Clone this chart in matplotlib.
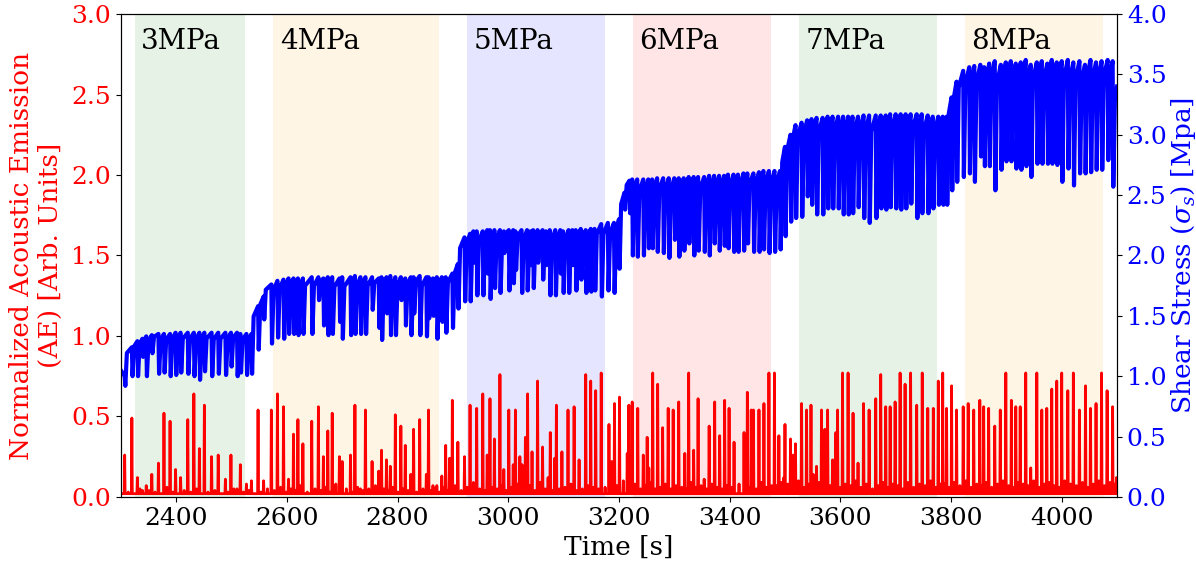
import numpy as np
import matplotlib
matplotlib.use("Agg")
import matplotlib.pyplot as plt

plt.rcParams['font.family'] = 'DejaVu Serif'
plt.rcParams['mathtext.fontset'] = 'dejavuserif'
plt.rcParams['font.size'] = 18

# normal stress stages (shaded windows)
stage_labels = ['3MPa', '4MPa', '5MPa', '6MPa', '7MPa', '8MPa']
stage_start = [2325, 2575, 2925, 3225, 3525, 3825]
stage_end = [2525, 2875, 3175, 3475, 3775, 4075]
stage_colors = ['green', 'orange', 'blue', 'red', 'green', 'orange']

# shear stress: slip events (time [s], stress before slip, stress after slip) [MPa]
stress_first = (2300, 1.05)
stress_last = (4100, 3.40)
stress_time = [
    2307, 2320, 2330, 2339, 2346, 2356, 2368, 2378, 2389, 2399, 2408, 2421, 2432, 2442, 2451, 2464,
    2476, 2489, 2499, 2510, 2516, 2527, 2536,
    2548, 2558, 2572, 2583, 2594, 2603, 2612, 2620, 2629, 2645, 2657, 2666, 2674, 2682, 2695, 2700,
    2715, 2723, 2733, 2742, 2754, 2766, 2771, 2780, 2787, 2796, 2806, 2814, 2824, 2829, 2840, 2852,
    2856, 2864, 2871, 2880, 2887,
    2899, 2909, 2921, 2931, 2937, 2943, 2954, 2962, 2967, 2975, 2985, 2992, 3001, 3009, 3013, 3024,
    3034, 3040, 3045, 3053, 3062, 3068, 3075, 3085, 3094, 3099, 3109, 3116, 3122, 3131, 3140, 3149,
    3156,
    3168, 3180, 3191, 3200, 3210, 3219, 3224, 3233, 3244, 3253, 3260, 3269, 3280, 3290, 3300, 3308,
    3317, 3326, 3335, 3343, 3354, 3363, 3372, 3381, 3390, 3397, 3407, 3415, 3425, 3432, 3443, 3453,
    3461, 3471, 3481, 3491,
    3500, 3510, 3519, 3530, 3540, 3548, 3557, 3568, 3577, 3586, 3596, 3605, 3614, 3622, 3632, 3642,
    3652, 3664, 3673, 3682, 3690, 3700, 3709, 3718, 3727, 3738, 3747, 3758, 3767, 3777, 3785, 3792,
    3801, 3810, 3822, 3833, 3842, 3853, 3860, 3869, 3879, 3890, 3899, 3908, 3917, 3926, 3935, 3944,
    3955, 3964, 3974, 3982, 3991, 4000, 4011, 4021, 4032, 4042, 4052, 4062, 4072, 4083, 4092,
]
stress_peak = [
    1.00, 1.24, 1.29, 1.31, 1.33, 1.34, 1.35, 1.35, 1.35, 1.36, 1.36, 1.36, 1.36, 1.36, 1.36, 1.36,
    1.36, 1.36, 1.36, 1.36, 1.35, 1.35, 1.35,
    1.58, 1.66, 1.76, 1.79, 1.80, 1.81, 1.81, 1.81, 1.81, 1.82, 1.82, 1.81, 1.82, 1.82, 1.81, 1.82,
    1.82, 1.83, 1.82, 1.82, 1.82, 1.81, 1.82, 1.82, 1.83, 1.82, 1.82, 1.81, 1.82, 1.82, 1.83, 1.82,
    1.82, 1.81, 1.82, 1.82, 1.82,
    1.85, 1.93, 2.15, 2.18, 2.20, 2.20, 2.20, 2.21, 2.21, 2.21, 2.21, 2.20, 2.21, 2.21, 2.20, 2.21,
    2.21, 2.20, 2.21, 2.21, 2.21, 2.20, 2.21, 2.21, 2.21, 2.20, 2.21, 2.21, 2.21, 2.22, 2.21, 2.22,
    2.22,
    2.26, 2.27, 2.27, 2.30, 2.52, 2.62, 2.63, 2.63, 2.63, 2.63, 2.63, 2.64, 2.64, 2.64, 2.64, 2.64,
    2.64, 2.65, 2.65, 2.65, 2.65, 2.66, 2.66, 2.66, 2.66, 2.67, 2.67, 2.67, 2.68, 2.68, 2.68, 2.69,
    2.70, 2.70, 2.70, 2.70,
    2.90, 3.00, 3.08, 3.10, 3.12, 3.13, 3.14, 3.14, 3.15, 3.15, 3.15, 3.15, 3.15, 3.15, 3.15, 3.16,
    3.16, 3.16, 3.16, 3.16, 3.17, 3.17, 3.17, 3.17, 3.17, 3.17, 3.17, 3.16, 3.15, 3.15, 3.15, 3.15,
    3.31, 3.44, 3.53, 3.56, 3.57, 3.58, 3.56, 3.59, 3.61, 3.58, 3.60, 3.61, 3.59, 3.60, 3.62, 3.58,
    3.60, 3.61, 3.59, 3.62, 3.60, 3.61, 3.62, 3.60, 3.61, 3.58, 3.62, 3.60, 3.61, 3.62, 3.61,
]
stress_dip = [
    0.92, 1.00, 1.00, 1.16, 1.00, 1.19, 1.02, 1.03, 1.00, 1.01, 1.03, 1.02, 1.00, 0.97, 1.04, 1.00,
    1.02, 1.01, 1.08, 1.00, 1.03, 1.01, 1.02,
    1.22, 1.47, 1.27, 1.32, 1.31, 1.35, 1.35, 1.34, 1.35, 1.35, 1.63, 1.42, 1.34, 1.35, 1.45, 1.31,
    1.34, 1.35, 1.35, 1.35, 1.55, 1.40, 1.30, 1.52, 1.34, 1.34, 1.63, 1.42, 1.34, 1.52, 1.34, 1.33,
    1.48, 1.50, 1.31, 1.45, 1.36,
    1.40, 1.56, 1.62, 1.62, 1.94, 1.67, 1.67, 1.85, 1.64, 1.73, 1.69, 2.02, 1.71, 1.77, 1.88, 1.69,
    1.71, 1.92, 1.73, 1.94, 1.80, 1.92, 1.67, 1.67, 1.85, 1.69, 1.69, 1.92, 1.71, 1.80, 1.69, 1.70,
    1.71,
    1.66, 1.71, 1.69, 1.89, 2.38, 2.35, 2.00, 1.99, 2.00, 2.06, 2.06, 2.03, 2.02, 1.98, 2.13, 1.99,
    2.04, 2.10, 2.00, 2.04, 2.03, 2.00, 2.10, 2.04, 2.08, 2.06, 2.03, 2.03, 2.04, 2.10, 2.03, 2.03,
    2.05, 2.02, 2.03, 2.05,
    2.16, 2.28, 2.31, 2.32, 2.49, 2.42, 2.34, 2.34, 2.39, 2.39, 2.39, 2.34, 2.34, 2.35, 2.40, 2.31,
    2.27, 2.31, 2.39, 2.38, 2.40, 2.39, 2.38, 2.39, 2.43, 2.31, 2.35, 2.35, 2.39, 2.42, 2.42, 2.42,
    2.54, 2.61, 2.65, 2.68, 2.61, 2.82, 2.74, 2.74, 2.54, 2.71, 2.78, 2.78, 2.72, 2.71, 2.74, 2.65,
    2.76, 2.76, 2.76, 2.76, 2.75, 2.61, 2.72, 2.58, 2.68, 2.68, 2.69, 2.71, 2.71, 2.79, 2.57,
]

# acoustic emission bursts (time [s], normalized amplitude) and the small burst that follows each
ae_floor = 0.02
ae_time = [
    2307, 2320, 2330, 2339, 2346, 2356, 2368, 2378, 2389, 2399, 2408, 2421, 2432, 2442, 2451, 2464,
    2476, 2489, 2499, 2510, 2516, 2527, 2536,
    2548, 2558, 2572, 2583, 2594, 2603, 2612, 2620, 2629, 2645, 2657, 2666, 2674, 2682, 2695, 2700,
    2715, 2723, 2733, 2742, 2754, 2766, 2771, 2780, 2787, 2796, 2806, 2814, 2824, 2829, 2840, 2852,
    2856, 2864, 2871, 2880, 2887,
    2894, 2899, 2909, 2921, 2931, 2943, 2954, 2962, 2967, 2975, 2985, 2992, 3001, 3009, 3013, 3021,
    3025, 3031, 3035, 3043, 3053, 3062, 3072, 3076, 3084, 3087, 3097, 3108, 3119, 3128, 3140, 3149,
    3158,
    3168, 3182, 3187, 3192, 3201, 3215, 3218, 3224, 3234, 3244, 3251, 3254, 3261, 3270, 3279, 3289,
    3298, 3308, 3319, 3326, 3335, 3343, 3354, 3363, 3373, 3382, 3391, 3399, 3408, 3426, 3432, 3439,
    3443, 3453, 3462, 3471,
    3481, 3489, 3498, 3500, 3510, 3515, 3519, 3530, 3539, 3547, 3551, 3557, 3566, 3572, 3577, 3586,
    3592, 3595, 3604, 3614, 3623, 3632, 3642, 3652, 3664, 3673, 3682, 3690, 3699, 3708, 3717, 3727,
    3738, 3748, 3758, 3768, 3777,
    3785, 3792, 3801, 3810, 3822, 3831, 3841, 3852, 3859, 3868, 3879, 3889, 3899, 3909, 3917, 3925,
    3935, 3944, 3955, 3964, 3973, 3982, 3991, 4000, 4011, 4021, 4032, 4043, 4052, 4062, 4072, 4082,
    4092, 4099,
]
ae_value = [
    0.26, 0.49, 0.12, 0.04, 0.07, 0.14, 0.21, 0.52, 0.47, 0.17, 0.12, 0.48, 0.64, 0.30, 0.57, 0.25,
    0.26, 0.11, 0.26, 0.05, 0.20, 0.08, 0.10,
    0.54, 0.10, 0.54, 0.64, 0.56, 0.11, 0.39, 0.48, 0.33, 0.47, 0.56, 0.25, 0.41, 0.52, 0.25, 0.22,
    0.26, 0.57, 0.05, 0.54, 0.22, 0.16, 0.29, 0.23, 0.19, 0.51, 0.44, 0.32, 0.14, 0.42, 0.48, 0.14,
    0.54, 0.07, 0.07, 0.13, 0.32,
    0.24, 0.60, 0.34, 0.25, 0.57, 0.55, 0.64, 0.26, 0.61, 0.36, 0.76, 0.17, 0.54, 0.20, 0.54, 0.25,
    0.20, 0.37, 0.64, 0.28, 0.72, 0.31, 0.12, 0.40, 0.24, 0.57, 0.28, 0.54, 0.56, 0.23, 0.76, 0.72,
    0.66,
    0.77, 0.45, 0.22, 0.58, 0.62, 0.27, 0.57, 0.59, 0.55, 0.26, 0.37, 0.18, 0.77, 0.70, 0.43, 0.55,
    0.54, 0.59, 0.27, 0.77, 0.29, 0.61, 0.11, 0.44, 0.59, 0.38, 0.60, 0.55, 0.34, 0.40, 0.65, 0.54,
    0.54, 0.54, 0.58, 0.77,
    0.77, 0.38, 0.12, 0.45, 0.36, 0.26, 0.33, 0.58, 0.54, 0.57, 0.14, 0.19, 0.54, 0.42, 0.54, 0.23,
    0.40, 0.54, 0.77, 0.77, 0.52, 0.21, 0.58, 0.54, 0.61, 0.76, 0.56, 0.56, 0.59, 0.77, 0.70, 0.77,
    0.57, 0.77, 0.55, 0.55, 0.72,
    0.77, 0.55, 0.69, 0.54, 0.56, 0.58, 0.54, 0.60, 0.56, 0.55, 0.44, 0.54, 0.77, 0.60, 0.56, 0.56,
    0.77, 0.18, 0.77, 0.54, 0.55, 0.67, 0.72, 0.77, 0.66, 0.77, 0.54, 0.69, 0.55, 0.58, 0.77, 0.66,
    0.56, 0.12,
]
ae_minor = [
    0.03, 0.02, 0.05, 0.02, 0.04, 0.03, 0.02, 0.06, 0.03, 0.02, 0.04, 0.03, 0.05, 0.02, 0.03, 0.04,
    0.02, 0.03, 0.05, 0.02, 0.03, 0.04, 0.02,
    0.03, 0.05, 0.04, 0.06, 0.03, 0.05, 0.04, 0.07, 0.03, 0.05, 0.04, 0.06, 0.03, 0.08, 0.04, 0.05,
    0.03, 0.06, 0.04, 0.05, 0.07, 0.03, 0.05, 0.04, 0.06, 0.03, 0.05, 0.04, 0.07, 0.03, 0.05, 0.06,
    0.04, 0.05, 0.03, 0.06, 0.04,
    0.05, 0.07, 0.04, 0.06, 0.09, 0.05, 0.04, 0.08, 0.06, 0.05, 0.07, 0.04, 0.06, 0.05, 0.08, 0.04,
    0.06, 0.05, 0.07, 0.04, 0.09, 0.05, 0.06, 0.04, 0.07, 0.05, 0.06, 0.08, 0.04, 0.05, 0.07, 0.06,
    0.05,
    0.06, 0.08, 0.05, 0.07, 0.10, 0.05, 0.06, 0.08, 0.05, 0.07, 0.06, 0.09, 0.05, 0.06, 0.08, 0.05,
    0.07, 0.06, 0.05, 0.09, 0.06, 0.07, 0.05, 0.08, 0.06, 0.05, 0.07, 0.06, 0.08, 0.05, 0.06, 0.07,
    0.05, 0.09, 0.06, 0.07,
    0.07, 0.09, 0.06, 0.08, 0.05, 0.07, 0.10, 0.06, 0.08, 0.05, 0.07, 0.09, 0.06, 0.08, 0.07, 0.05,
    0.09, 0.06, 0.08, 0.07, 0.10, 0.06, 0.08, 0.05, 0.07, 0.09, 0.06, 0.08, 0.07, 0.05, 0.09, 0.06,
    0.08, 0.07, 0.10, 0.06, 0.08,
    0.08, 0.06, 0.09, 0.07, 0.10, 0.06, 0.08, 0.07, 0.09, 0.06, 0.08, 0.10, 0.07, 0.06, 0.09, 0.08,
    0.07, 0.10, 0.06, 0.08, 0.09, 0.07, 0.06, 0.10, 0.08, 0.07, 0.09, 0.06, 0.08, 0.10, 0.07, 0.09,
    0.08, 0.06,
]
assert len(stress_time) == len(stress_peak) == len(stress_dip)
assert len(ae_time) == len(ae_value) == len(ae_minor)

# stick-slip trace: sharp drop, quick reload, then slow creep up to the next peak
sx, sy = [stress_first[0]], [stress_first[1]]
for i, t in enumerate(stress_time):
    if i + 1 < len(stress_time):
        nxt_t, nxt = stress_time[i + 1], stress_peak[i + 1]
    else:
        nxt_t, nxt = stress_last
    reload = nxt - 0.15 * (nxt - stress_dip[i])
    sx += [t, t + 1.2]
    sy += [stress_peak[i], stress_dip[i]]
    if nxt_t - t > 5:
        sx.append(t + 4.0); sy.append(reload)
sx.append(stress_last[0]); sy.append(stress_last[1])

# AE bursts as narrow spikes on a low floor
ae_x, ae_y = [2300], [ae_floor]
for i, (t, v) in enumerate(zip(ae_time, ae_value)):
    ae_x += [t - 0.8, t, t + 0.8]
    ae_y += [ae_floor, v, ae_floor]
    if i + 1 < len(ae_time) and ae_time[i + 1] - t > 4:
        m = 0.5 * (t + ae_time[i + 1])
        ae_x += [m - 0.6, m, m + 0.6]
        ae_y += [ae_floor, ae_minor[i], ae_floor]
ae_x.append(4100); ae_y.append(ae_floor)

fig, ax = plt.subplots(figsize=(11.96, 5.64), dpi=100)
fig.subplots_adjust(left=0.101, right=0.934, top=0.975, bottom=0.119)
ax2 = ax.twinx()

for lab, s, e, c in zip(stage_labels, stage_start, stage_end, stage_colors):
    ax.axvspan(s, e, color=c, alpha=0.1, lw=0)
    ax.text(s + 12, 2.83, lab, fontsize=20, va='center', ha='left')

ax.plot(ae_x, ae_y, color='red', lw=2.0, solid_joinstyle='round')
ax2.plot(sx, sy, color='blue', lw=3.0, solid_joinstyle='round')

ax.set_xlim(2300, 4100)
ax.set_ylim(0, 3.0)
ax2.set_ylim(0, 4.0)
ax.set_xticks([2400, 2600, 2800, 3000, 3200, 3400, 3600, 3800, 4000])
ax.set_yticks(np.arange(0, 3.01, 0.5))
ax2.set_yticks(np.arange(0, 4.01, 0.5))

ax.set_xlabel('Time [s]', fontsize=19, labelpad=4)
ax.set_ylabel('Normalized Acoustic Emission\n(AE) [Arb. Units]', color='red', fontsize=19, labelpad=6)
ax2.set_ylabel(r'Shear Stress ($\sigma_s$) [Mpa]', color='blue', fontsize=19, labelpad=2)
ax.tick_params(axis='y', labelcolor='red')
ax2.tick_params(axis='y', labelcolor='blue')

fig.savefig('out.png', dpi=100)
